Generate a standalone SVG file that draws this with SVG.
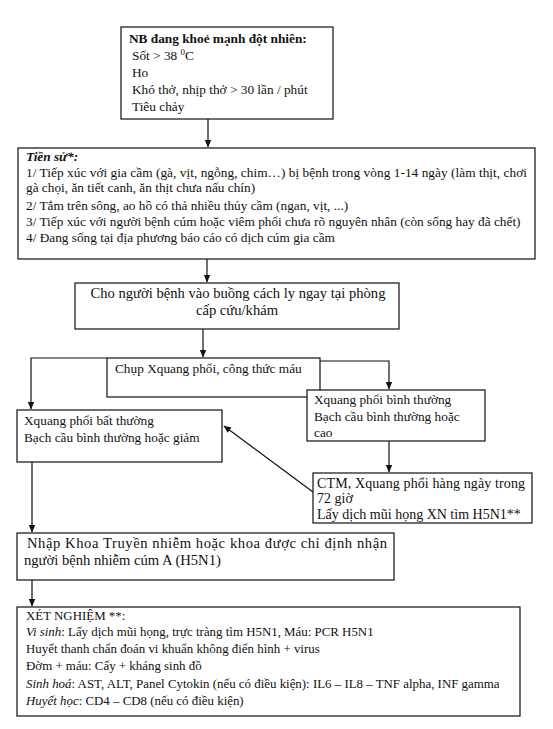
<svg xmlns="http://www.w3.org/2000/svg" width="553" height="729" viewBox="0 0 553 729">
<style>
  .box { fill: #fff; stroke: #222; stroke-width: 1.3; }
  text { font-family: "Liberation Serif", "Times New Roman", serif; font-size: 13.3px; fill: #111; }
  .lg { font-size: 14.6px; }
  .md { font-size: 14px; }
  .sm { font-size: 12.9px; }
  .b { font-weight: bold; }
  .bi { font-weight: bold; font-style: italic; }
  .i { font-style: italic; }
  .conn { fill: none; stroke: #111; stroke-width: 1.2; }
</style>
<defs>
  <marker id="arr" markerWidth="8" markerHeight="8" refX="7" refY="4" orient="auto" markerUnits="userSpaceOnUse">
    <path d="M0,0.8 L7.5,4 L0,7.2 Z" fill="#111"/>
  </marker>
</defs>
<rect width="553" height="729" fill="#fff"/>

<g id="connectors">
  <line class="conn" x1="208" y1="119" x2="208" y2="147" marker-end="url(#arr)"/>
  <line class="conn" x1="207" y1="259" x2="207" y2="282" marker-end="url(#arr)"/>
  <line class="conn" x1="203" y1="329" x2="203" y2="357" marker-end="url(#arr)"/>
  <polyline class="conn" points="107,358 31,358 31,409" marker-end="url(#arr)"/>
  <polyline class="conn" points="320,361 389,361 389,389" marker-end="url(#arr)"/>
  <line class="conn" x1="389" y1="441" x2="389" y2="472" marker-end="url(#arr)"/>
  <line class="conn" x1="313" y1="492" x2="224" y2="426" marker-end="url(#arr)"/>
  <line class="conn" x1="32" y1="462" x2="32" y2="532" marker-end="url(#arr)"/>
  <line class="conn" x1="32" y1="580" x2="32" y2="606" marker-end="url(#arr)"/>
</g>

<g id="n1">
  <rect class="box" x="121" y="27" width="212" height="92"/>
  <text class="b" x="129" y="43">NB đang khoẻ mạnh đột nhiên:</text>
  <text x="132" y="60">Sốt &gt; 38 <tspan font-size="9" dy="-5">0</tspan><tspan dy="5">C</tspan></text>
  <text x="132" y="77">Ho</text>
  <text x="132" y="94">Khó thở, nhịp thở &gt; 30 lần / phút</text>
  <text x="132" y="111">Tiêu chảy</text>
</g>

<g id="n2">
  <rect class="box" x="18" y="148" width="517" height="111"/>
  <text class="bi" x="26" y="161">Tiền sử*:</text>
  <text x="26" y="177" textLength="501" lengthAdjust="spacing">1/ Tiếp xúc với gia cầm (gà, vịt, ngỗng, chim…) bị bệnh trong vòng 1-14 ngày (làm thịt, chơi</text>
  <text x="26" y="192">gà chọi, ăn tiết canh, ăn thịt chưa nấu chín)</text>
  <text x="26" y="210">2/  Tắm trên sông, ao hồ có thả nhiều thủy cầm (ngan, vịt, ...)</text>
  <text x="26" y="226">3/ Tiếp xúc với người bệnh cúm hoặc viêm phổi chưa rõ nguyên nhân  (còn sống hay đã chết)</text>
  <text x="26" y="242">4/  Đang sống tại địa phương báo cáo có dịch cúm gia cầm</text>
</g>

<g id="n3">
  <rect class="box" x="75" y="283" width="324" height="46"/>
  <text class="lg" x="238" y="298" text-anchor="middle">Cho người bệnh vào buồng cách ly ngay tại phòng</text>
  <text class="lg" x="237" y="315" text-anchor="middle">cấp cứu/khám</text>
</g>

<g id="n4">
  <rect class="box" x="107" y="358" width="213" height="39"/>
  <text x="115" y="373">Chụp Xquang phổi, công thức máu</text>
</g>

<g id="n5">
  <rect class="box" x="17" y="410" width="205" height="52"/>
  <text x="24" y="425">Xquang phổi bất thường</text>
  <text x="24" y="442">Bạch cầu bình thường hoặc giảm</text>
</g>

<g id="n6">
  <rect class="box" x="307" y="390" width="178" height="51"/>
  <text x="314" y="404">Xquang phổi bình thường</text>
  <text x="314" y="421">Bạch cầu bình thường hoặc</text>
  <text x="314" y="437">cao</text>
</g>

<g id="n7">
  <rect class="box" x="313" y="473" width="219" height="50"/>
  <text class="md" x="317" y="488" textLength="208" lengthAdjust="spacing">CTM, Xquang phổi hàng ngày trong</text>
  <text class="md" x="317" y="503">72 giờ</text>
  <text class="md" x="317" y="519">Lấy dịch mũi họng XN tìm H5N1**</text>
</g>

<g id="n8">
  <rect class="box" x="17" y="533" width="377" height="47"/>
  <text class="lg" x="27" y="548" textLength="360" lengthAdjust="spacing">Nhập Khoa Truyền nhiễm hoặc khoa được chỉ định nhận</text>
  <text class="lg" x="24" y="565">người bệnh nhiễm cúm A (H5N1)</text>
</g>

<g id="n9">
  <rect class="box" x="17" y="607" width="503" height="109"/>
  <text class="sm" x="26" y="620">XÉT NGHIỆM **:</text>
  <text class="sm" x="26" y="636"><tspan class="i">Vi sinh</tspan>: Lấy dịch mũi họng, trực tràng tìm H5N1, Máu: PCR H5N1</text>
  <text class="sm" x="26" y="653">Huyết thanh chẩn đoán vi khuẩn không điển hình + virus</text>
  <text class="sm" x="26" y="670">Đờm + máu: Cấy + kháng sinh đồ</text>
  <text class="sm" x="26" y="688"><tspan class="i">Sinh hoá</tspan>: AST, ALT, Panel Cytokin (nếu có điều kiện): IL6 – IL8 – TNF alpha, INF gamma</text>
  <text class="sm" x="26" y="705"><tspan class="i">Huyết học</tspan>: CD4 – CD8 (nếu có điều kiện)</text>
</g>
</svg>
